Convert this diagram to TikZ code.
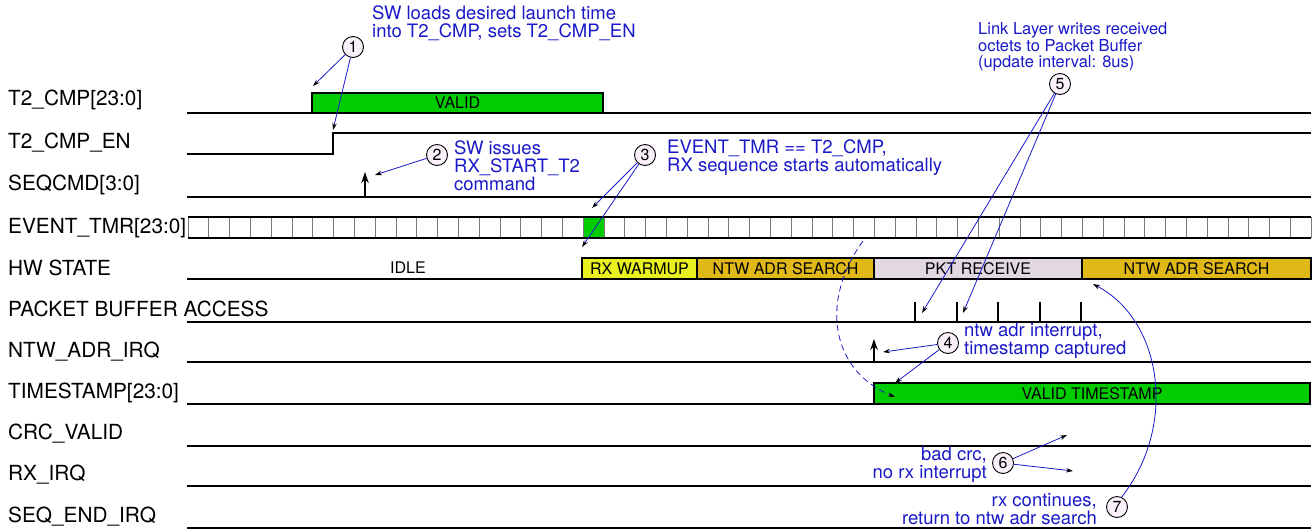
\documentclass[tikz,border=0pt]{standalone}
\usepackage{fontspec}
\setmainfont{TeX Gyre Heros}
\usetikzlibrary{arrows.meta}
\definecolor{annblue}{RGB}{25,25,200}
\definecolor{vgreen}{RGB}{0,204,0}
\definecolor{wyellow}{RGB}{232,240,32}
\definecolor{ngold}{RGB}{224,184,24}
\definecolor{pktgray}{RGB}{226,216,226}
\definecolor{circfill}{RGB}{250,240,250}
\definecolor{cellgray}{RGB}{120,120,120}
\begin{document}
\begin{tikzpicture}[x=1pt,y=-1pt,
 sig/.style={line width=2.6pt},
 siglabel/.style={anchor=west, inner sep=0pt, font=\fontsize{20.8}{22}\selectfont},
 statebox/.style={draw, line width=2.6pt, inner sep=0pt, font=\fontsize{16}{18}\selectfont},
 statetext/.style={inner sep=0pt, font=\fontsize{16}{18}\selectfont},
 num/.style={circle, draw, line width=0.9pt, fill=circfill, minimum size=21pt, inner sep=0pt, font=\fontsize{16}{16}\selectfont},
 ann/.style={text=annblue, inner sep=0pt, align=left, font=\fontsize{18.5}{18}\selectfont},
 annsmall/.style={text=annblue, inner sep=0pt, align=left, font=\fontsize{16.5}{16.5}\selectfont},
 pointer/.style={draw=annblue, line width=0.8pt, -{Stealth[black,length=7pt,width=4.5pt]}},
 uparrow/.style={line width=1.6pt, -{Stealth[length=11pt,width=7.5pt]}},
]
\useasboundingbox (0,0) rectangle (1314,531);

% ---------- signal labels ----------
\node[siglabel] (l1) at (8,100) {T2\_CMP[23:0]};
\node[siglabel] (l2) at (8,143) {T2\_CMP\_EN};
\node[siglabel] (l3) at (8,185) {SEQCMD[3:0]};
\node[siglabel] (l4) at (8,228) {EVENT\_TMR[23:0]};
\node[siglabel] (l5) at (8,268) {HW STATE};
\node[siglabel] (l6) at (8,309) {PACKET BUFFER ACCESS};
\node[siglabel] (l7) at (8,352) {NTW\_ADR\_IRQ};
\node[siglabel] (l8) at (8,393) {TIMESTAMP[23:0]};
\node[siglabel] (l9) at (8,434) {CRC\_VALID};
\node[siglabel] (l10) at (8,475) {RX\_IRQ};
\node[siglabel] (l11) at (8,517) {SEQ\_END\_IRQ};

% ---------- waveforms ----------
% T2_CMP
\draw[sig] (187,113) -- (1311,113);
\node[statebox, fill=vgreen, minimum width=291pt, minimum height=20pt] (valid) at (457.5,103) {VALID};
% T2_CMP_EN
\draw[sig] (187,154) -- (333,154) -- (333,133) -- (1311,133);
% SEQCMD
\draw[sig] (187,197) -- (1311,197);
\coordinate (sq0) at (365,197);
\coordinate (sq1) at (365,172);
\draw[uparrow] (sq0) -- (sq1);
% EVENT_TMR
\fill[vgreen] (583.2,217) rectangle (604,238);
\foreach \i in {0,...,54} {
  \draw[cellgray, line width=0.8pt] (188+20.8*\i,217) -- (188+20.8*\i,238);
}
\draw[sig] (188,217) -- (1311,217);
\draw[sig] (188,238) -- (1311,238);
% HW STATE
\draw[sig] (187,279) -- (582,279);
\node[statetext] (idle) at (408,268) {IDLE};
\node[statebox, fill=wyellow, minimum width=115pt, minimum height=21pt] (warm) at (639.5,268.5) {RX WARMUP};
\node[statebox, fill=ngold, minimum width=177pt, minimum height=21pt] (nas1) at (785.5,268.5) {NTW ADR SEARCH};
\node[statebox, fill=pktgray, minimum width=208pt, minimum height=21pt] (pkt) at (978,268.5) {PKT RECEIVE};
\node[statebox, fill=ngold, minimum width=229pt, minimum height=21pt] (nas2) at (1196.5,268.5) {NTW ADR SEARCH};
% PACKET BUFFER ACCESS
\draw[sig] (187,322) -- (1311,322);
\foreach \x in {915,956.5,998,1039.5,1081} {
  \draw[line width=2pt] (\x,322) -- (\x,302);
}
% NTW_ADR_IRQ
\draw[sig] (187,362) -- (1311,362);
\coordinate (nq0) at (874,362);
\coordinate (nq1) at (874,339);
\draw[uparrow] (nq0) -- (nq1);
% TIMESTAMP
\draw[sig] (187,404) -- (874,404);
\node[statebox, fill=vgreen, minimum width=436pt, minimum height=21pt] (vts) at (1092,393.5) {VALID TIMESTAMP};
% CRC_VALID, RX_IRQ, SEQ_END_IRQ
\draw[sig] (187,446) -- (1311,446);
\draw[sig] (187,486) -- (1311,486);
\draw[sig] (187,528) -- (1311,528);

% ---------- annotations ----------
\node[num] (c1) at (353,47) {1};
\node[ann, anchor=west] (t1) at (372,23) {SW loads desired launch time\\into T2\_CMP, sets T2\_CMP\_EN};
\coordinate (p1a) at (313,86);
\coordinate (p1b) at (333,130);
\draw[pointer] (c1) -- (p1a);
\draw[pointer] (c1) -- (p1b);

\node[num] (c2) at (437,155) {2};
\node[ann, anchor=west] (t2) at (454,166) {SW issues\\RX\_START\_T2\\command};
\coordinate (p2) at (375,175);
\draw[pointer] (c2) -- (p2);

\node[num] (c3) at (645,155) {3};
\node[ann, anchor=west] (t3) at (667,158) {EVENT\_TMR == T2\_CMP,\\RX sequence starts automatically};
\coordinate (p3a) at (592,208);
\coordinate (p3b) at (582,247);
\draw[pointer] (c3) -- (p3a);
\draw[pointer] (c3) -- (p3b);

\node[num] (c4) at (948,343) {4};
\node[ann, anchor=west] (t4) at (964,341) {ntw adr interrupt,\\timestamp captured};
\coordinate (p4a) at (883,352);
\coordinate (p4b) at (895,383);
\draw[pointer] (c4) -- (p4a);
\draw[pointer] (c4) -- (p4b);

\node[num] (c5) at (1060,84) {5};
\node[annsmall, anchor=west] (t5) at (978,47) {Link Layer writes received\\octets to Packet Buffer\\(update interval: 8us)};
\coordinate (p5a) at (922,313);
\coordinate (p5b) at (963,313);
\draw[pointer] (c5) -- (p5a);
\draw[pointer] (c5) -- (p5b);

\node[num] (c6) at (1003,463) {6};
\node[ann, anchor=east, align=right] (t6) at (987,465) {bad crc,\\no rx interrupt};
\coordinate (p6a) at (1067,435);
\coordinate (p6b) at (1073,471);
\draw[pointer] (c6) -- (p6a);
\draw[pointer] (c6) -- (p6b);

\node[num] (c7) at (1117,507) {7};
\node[ann, anchor=east, align=right] (t7) at (1097,509) {rx continues,\\return to ntw adr search};
\coordinate (p7) at (1093,284);
\draw[pointer] (c7.65) .. controls (1178,425) and (1162,320) .. (p7);

% dashed timestamp capture
\coordinate (d0) at (863,241);
\coordinate (d1) at (895,397);
\draw[pointer, dash pattern=on 6pt off 4pt] (d0) .. controls (820,300) and (830,370) .. (d1);
\end{tikzpicture}
\end{document}
